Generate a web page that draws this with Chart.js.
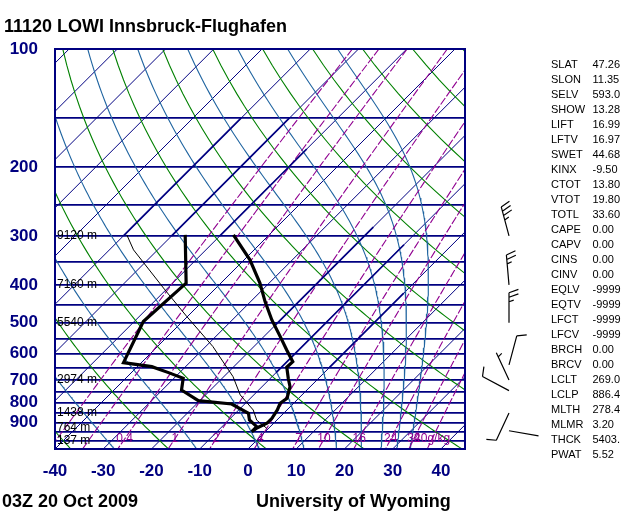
<!DOCTYPE html>
<html><head><meta charset="utf-8">
<script src="https://cdn.jsdelivr.net/npm/chart.js@4.4.0/dist/chart.umd.min.js"></script>
<style>html,body{margin:0;padding:0;background:#fff;}canvas{display:block;}</style>
</head><body>
<canvas id="c" width="640" height="512"></canvas>
<script>
// ---------- sounding values ----------
const TEMP_P = [948.4, 928, 902.7, 876.4, 834.7, 802.6, 779.4, 727.8, 692.9, 649.3, 628.5, 586.5, 542.3, 491.7, 441.5, 396, 345.4, 298.2];
const TEMP_C = [-2.8, -2.5, -1.4, -1.4, -2.0, -2.8, -2.4, -4.2, -6.3, -8.9, -8.8, -12.5, -16.6, -21.8, -27.0, -31.9, -38.8, -47.4];
const DEWP_P = [948.4, 920.9, 885.4, 851, 806, 790.5, 742.3, 692.5, 670.2, 647, 632, 496.5, 396, 298.2];
const DEWP_C = [-2.8, -2.8, -5.7, -7.3, -12.7, -20.3, -26.0, -28.1, -32.3, -37.0, -43.7, -48.1, -47.2, -57.4];
const PARCEL_P = [929.6, 886.4, 834.7, 764.2, 686.1, 575, 482.2, 412, 325.7, 298.2];
const PARCEL_C = [-0.4, -4.15, -7.0, -12.8, -18.1, -28.5, -40.1, -50.2, -65.0, -69.5];

const HGT_P = [300, 400, 500, 700, 850, 925, 1000];
const HGT_TXT = ['9120 m', '7160 m', '5540 m', '2974 m', '1438 m', '764 m', '137 m'];

const WIND_P = [300, 400, 500, 640, 700, 745, 850, 943];
const WIND_DIR = [345, 355, 360, 15, 335, 298, 205, 100];
const WIND_KT = [35, 25, 25, 10, 5, 10, 10, 2];

const STAT_NAMES = ['SLAT','SLON','SELV','SHOW','LIFT','LFTV','SWET','KINX','CTOT','VTOT','TOTL','CAPE','CAPV','CINS','CINV','EQLV','EQTV','LFCT','LFCV','BRCH','BRCV','LCLT','LCLP','MLTH','MLMR','THCK','PWAT'];
const STAT_VALUES = ['47.26','11.35','593.0','13.28','16.99','16.97','44.68','-9.50','13.80','19.80','33.60','0.00','0.00','0.00','0.00','-9999','-9999','-9999','-9999','0.00','0.00','269.0','886.4','278.4','3.20','5403.','5.52'];

const TITLE = '11120 LOWI Innsbruck-Flughafen';
const FOOT_LEFT = '03Z 20 Oct 2009';
const FOOT_RIGHT = 'University of Wyoming';

// ---------- diagram reference lines ----------
const ISOBARS = [100,150,200,250,300,350,400,450,500,550,600,650,700,750,800,850,900,950,1000,1050];
const P_LABELS = [100,200,300,400,500,600,700,800,900];
const T_TICKS = [-40,-30,-20,-10,0,10,20,30,40];
const ISOTHERMS = [-120,-110,-100,-90,-80,-70,-60,-50,-40,-30,-20,-10,0,10,20,30,40];
const BOLD_ISO_T = [-70, -60, -50, -20, -10, 0];
const BOLD_ISO_PTOP = [150, 150, 180, 285, 316, 420];
const BOLD_ISO_PBOT = [300, 300, 300, 510, 670, 650];
const DRY_THETA_C = [-40,-20,0,20,40,60,80,100,120,140,160,180];
const MOIST_THETA_C = [-30,-10,10,30,50,70,90,110,130];
const MIX_GKG = [0.1,0.2,0.4,1,2,4,7,10,16,24,32,40];
const MIX_LABELS = ['','','0.4','1','2','4','7','10','16','24','32','40g/kg'];

const NAVY = '#000080', GREEN = '#008000', MOIST = '#1f64a0', PURPLE = '#900090';
const FONT = '"Liberation Sans", Arial, Helvetica, sans-serif';
const SKEW = 81.2, PBOT = 1050, PTOP = 100;

function skx(T, p) { return T + SKEW * Math.log10(PBOT / p); }
function esat(Tc) { return 6.112 * Math.exp(17.67 * Tc / (Tc + 243.5)); }
function pList(step) { const a = []; for (let p = PTOP; p < PBOT; p += step) a.push(p); a.push(PBOT); return a; }
const pts = (P, T) => P.map((p, i) => ({ x: skx(T[i], p), y: p }));

function dryLine(thC) {
  return pList(10).map(p => ({ x: skx((thC + 273.15) * Math.pow(p / 1000, 0.2857) - 273.15, p), y: p }));
}
function lapse(p, TK) {
  const Rd = 287.04, cp = 1005.7, L = 2.501e6, eps = 0.622;
  const es = esat(TK - 273.15), rs = eps * es / (p - es);
  return (Rd * TK + L * rs) / (cp + L * L * rs * eps / (Rd * TK * TK)) / p;
}
function moistLine(thC) {
  let p = PTOP, T = (thC + 273.15) * Math.pow(PTOP / 1000, 0.2857);
  const out = [{ x: skx(T - 273.15, p), y: p }];
  while (p < PBOT) {
    const h = Math.min(5, PBOT - p);
    const k1 = lapse(p, T), k2 = lapse(p + h / 2, T + h / 2 * k1), k3 = lapse(p + h / 2, T + h / 2 * k2), k4 = lapse(p + h, T + h * k3);
    T += h / 6 * (k1 + 2 * k2 + 2 * k3 + k4); p += h;
    out.push({ x: skx(T - 273.15, p), y: p });
  }
  return out;
}
function mixT(w, p) { const e = w * p / (622 + w); const l = Math.log(e / 6.112); return 243.5 * l / (17.67 - l); }
function mixLine(w) { return pList(10).map(p => ({ x: skx(mixT(w, p), p), y: p })); }

function ds(data, color, width, extra) {
  return Object.assign({ data, showLine: true, borderColor: color, backgroundColor: color, borderWidth: width,
    pointRadius: 0, pointHoverRadius: 0, fill: false, tension: 0, clip: 0 }, extra || {});
}

const datasets = [];
datasets.push(ds(pts(TEMP_P, TEMP_C), '#000', 3.2, { label: 'Temperature' }));
datasets.push(ds(pts(DEWP_P, DEWP_C), '#000', 3.2, { label: 'Dewpoint' }));
datasets.push(ds(pts(PARCEL_P, PARCEL_C), '#000', 1, { label: 'Parcel' }));
BOLD_ISO_T.forEach((t, i) => datasets.push(ds([{ x: skx(t, BOLD_ISO_PBOT[i]), y: BOLD_ISO_PBOT[i] }, { x: skx(t, BOLD_ISO_PTOP[i]), y: BOLD_ISO_PTOP[i] }], NAVY, 1.7)));
MIX_GKG.forEach(w => datasets.push(ds(mixLine(w), PURPLE, 1.1, { borderDash: [8, 2] })));
MOIST_THETA_C.forEach(t => datasets.push(ds(moistLine(t), MOIST, 1.1)));
DRY_THETA_C.forEach(t => datasets.push(ds(dryLine(t), GREEN, 1.1)));
ISOTHERMS.forEach(t => datasets.push(ds([{ x: skx(t, PBOT), y: PBOT }, { x: skx(t, PTOP), y: PTOP }], NAVY, 1)));

function drawBarb(ctx, x0, y0, dir, spd) {
  const r = dir * Math.PI / 180, ux = Math.sin(r), uy = -Math.cos(r);
  const L = 30, sp = 4.5, full = 10, a = 70 * Math.PI / 180;
  const bx = ux * Math.cos(a) - uy * Math.sin(a), by = ux * Math.sin(a) + uy * Math.cos(a);
  const tx = x0 + ux * L, ty = y0 + uy * L;
  ctx.beginPath(); ctx.moveTo(x0, y0); ctx.lineTo(tx, ty);
  const s = Math.round(spd / 5) * 5, nFull = Math.floor(s / 10), half = (s % 10) >= 5;
  let pos = (nFull === 0 && half) ? 1 : 0;
  for (let k = 0; k < nFull; k++, pos++) {
    const px = tx - ux * sp * pos, py = ty - uy * sp * pos;
    ctx.moveTo(px, py); ctx.lineTo(px + bx * full, py + by * full);
  }
  if (half) { const px = tx - ux * sp * pos, py = ty - uy * sp * pos; ctx.moveTo(px, py); ctx.lineTo(px + bx * full / 2, py + by * full / 2); }
  ctx.stroke();
}

const decor = {
  id: 'decor',
  afterDatasetsDraw(chart) {
    const { ctx, chartArea: ca, scales: { x, y } } = chart;
    ctx.save();
    ctx.strokeStyle = NAVY; ctx.lineWidth = 2;
    ctx.strokeRect(ca.left, ca.top, ca.right - ca.left, ca.bottom - ca.top);
    ctx.fillStyle = '#000'; ctx.font = '12px ' + FONT; ctx.textAlign = 'left'; ctx.textBaseline = 'middle';
    HGT_P.forEach((p, i) => ctx.fillText(HGT_TXT[i], ca.left + 2, y.getPixelForValue(p)));
    ctx.fillStyle = PURPLE; ctx.textAlign = 'center';
    MIX_GKG.forEach((w, i) => { if (MIX_LABELS[i]) ctx.fillText(MIX_LABELS[i], x.getPixelForValue(skx(mixT(w, 990), 990)), y.getPixelForValue(990)); });
    ctx.strokeStyle = '#000'; ctx.lineWidth = 1.2;
    WIND_P.forEach((p, i) => drawBarb(ctx, ca.right + 44, y.getPixelForValue(p), WIND_DIR[i], WIND_KT[i]));
    ctx.textBaseline = 'alphabetic'; ctx.textAlign = 'left'; ctx.fillStyle = '#000';
    ctx.font = 'bold 18px ' + FONT;
    ctx.fillText(TITLE, 4, 31.5);
    ctx.fillText(FOOT_LEFT, 2, 507);
    ctx.fillText(FOOT_RIGHT, 256, 507);
    ctx.font = '11px ' + FONT;
    STAT_NAMES.forEach((n, i) => { ctx.fillText(n, 551, 67.5 + 15 * i); ctx.fillText(STAT_VALUES[i], 592.5, 67.5 + 15 * i); });
    ctx.restore();
  }
};

new Chart(document.getElementById('c'), {
  type: 'scatter',
  data: { datasets },
  options: {
    responsive: false, animation: false, devicePixelRatio: 1,
    layout: { padding: { left: 0, right: 175, top: 49, bottom: 0 } },
    plugins: { legend: { display: false }, tooltip: { enabled: false } },
    events: [],
    scales: {
      x: {
        type: 'linear', min: -40, max: 45,
        afterBuildTicks: s => { s.ticks = T_TICKS.map(v => ({ value: v })); },
        afterFit: s => { s.height = 63; },
        grid: { display: false, drawTicks: false },
        border: { display: false },
        ticks: { color: NAVY, font: { family: FONT, size: 17, weight: 'bold' }, padding: 12, maxRotation: 0, autoSkip: false,
          callback: v => String(v) }
      },
      y: {
        type: 'logarithmic', min: PTOP, max: PBOT, reverse: true,
        afterBuildTicks: s => { s.ticks = ISOBARS.map(v => ({ value: v })); },
        afterFit: s => { s.width = 55; },
        grid: { color: NAVY, lineWidth: 1.8, drawTicks: false },
        border: { display: false },
        ticks: { color: NAVY, font: { family: FONT, size: 17, weight: 'bold' }, padding: 17, autoSkip: false,
          callback: v => P_LABELS.includes(v) ? String(v) : '' }
      }
    }
  },
  plugins: [decor]
});
</script>
</body></html>
